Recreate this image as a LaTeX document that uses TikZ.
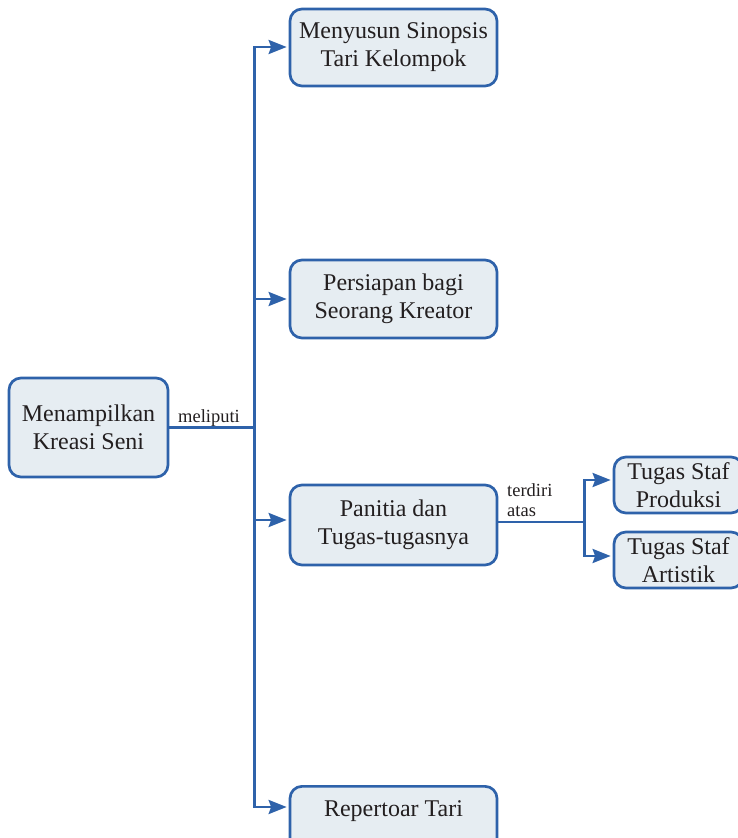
\documentclass[tikz,border=0pt]{standalone}
\usepackage{fontspec}
\setmainfont{Liberation Serif}
\usetikzlibrary{arrows.meta}
\definecolor{edgeblue}{HTML}{2E62AA}
\definecolor{boxfill}{HTML}{E6EDF2}
\definecolor{ink}{HTML}{231F20}
\tikzset{
  box/.style={draw=edgeblue, fill=boxfill, line width=2.7pt, rounded corners=12pt,
    align=center, text=ink, inner sep=0pt, font=\fontsize{24}{28}\selectfont},
  link/.style={draw=edgeblue, line width=2.7pt},
  arr/.style={link, shorten >=2pt, -{Stealth[length=18pt, width=14pt, inset=2.5pt]}},
  lbl/.style={text=ink, inner sep=0pt, font=\fontsize{18.5}{20}\selectfont}
}
\begin{document}
\begin{tikzpicture}[x=1pt, y=-1pt]
\useasboundingbox (0,0) rectangle (738,838);
\clip (0,0) rectangle (738,838);

% central topic
\node[box, minimum width=159pt, minimum height=99pt] (main) at (88.5,427.5) {Menampilkan\\Kreasi Seni};

% first level
\node[box, minimum width=207pt, minimum height=77pt] (b1) at (393.5,47.5) {Menyusun Sinopsis\\Tari Kelompok};
\node[box, minimum width=207pt, minimum height=78pt] (b2) at (393.5,299) {Persiapan bagi\\Seorang Kreator};
\node[box, minimum width=207pt, minimum height=80pt] (b3) at (393.5,525) {Panitia dan\\Tugas-tugasnya};
\node[box, minimum width=207pt, text height=30pt, text depth=45pt, anchor=north] (b4) at (393.5,785) {Repertoar Tari};

% second level
\node[box, minimum width=129pt, minimum height=56pt] (r1) at (678.5,485) {Tugas Staf\\Produksi};
\node[box, minimum width=129pt, minimum height=56pt] (r2) at (678.5,560) {Tugas Staf\\Artistik};

% trunk from the central topic
\draw[link] (main.east) -- ++(85,0) coordinate (j);
\draw[arr] (j) |- ([yshift=0.5pt]b1.west);
\draw[arr] (j) |- (b2.west);
\draw[arr] (j) |- ([yshift=5pt]b3.west);
\draw[arr] (j) |- ([yshift=-22pt]b4.north west);
\node[lbl, anchor=base west] (m) at (178,422) {meliputi};

% branch of the committee node
\draw[link] ([yshift=3pt]b3.east) -- ++(86,0) coordinate (k);
\draw[arr] (k) |- ([yshift=5pt]r1.west);
\draw[arr] (k) |- ([yshift=4pt]r2.west);
\node[lbl, anchor=north west, align=left] (t) at (507,483) {terdiri\\atas};
\end{tikzpicture}
\end{document}
